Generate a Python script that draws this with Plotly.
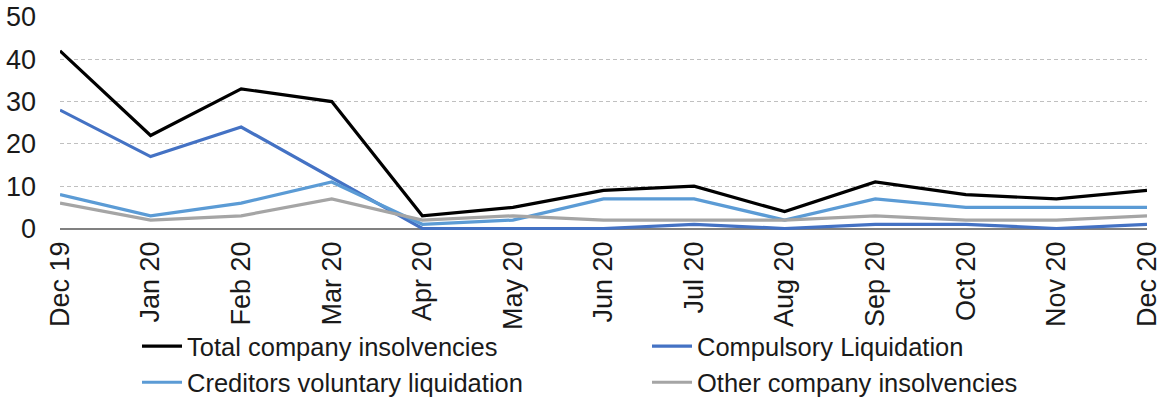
import plotly.graph_objects as go

months = ["Dec 19", "Jan 20", "Feb 20", "Mar 20", "Apr 20", "May 20", "Jun 20",
          "Jul 20", "Aug 20", "Sep 20", "Oct 20", "Nov 20", "Dec 20"]
total = [42, 22, 33, 30, 3, 5, 9, 10, 4, 11, 8, 7, 9]
compulsory = [28, 17, 24, 12, 0, 0, 0, 1, 0, 1, 1, 0, 1]
cvl = [8, 3, 6, 11, 1, 2, 7, 7, 2, 7, 5, 5, 5]
other = [6, 2, 3, 7, 2, 3, 2, 2, 2, 3, 2, 2, 3]

series = [
    ("Total company insolvencies", total, "#000000"),
    ("Compulsory Liquidation", compulsory, "#4472C4"),
    ("Creditors voluntary liquidation", cvl, "#5B9BD5"),
    ("Other company insolvencies", other, "#A5A5A5"),
]

idx = list(range(len(months)))
fig = go.Figure()
for name, vals, col in series:
    fig.add_trace(go.Scatter(x=idx, y=vals, name=name, mode="lines",
                             line=dict(color=col, width=3.2)))

font = "Liberation Sans, Arial, sans-serif"
fig.update_layout(
    width=1163, height=401,
    margin=dict(l=60, r=16, t=17, b=171),
    plot_bgcolor="white", paper_bgcolor="white",
    font=dict(family=font, color="#1a1a1a"),
    showlegend=True,
    legend=dict(orientation="h", xref="container", yref="container",
                x=137 / 1163, y=1 - 323 / 401, xanchor="left", yanchor="top",
                entrywidth=455, entrywidthmode="pixels", bgcolor="rgba(0,0,0,0)",
                font=dict(size=25.5, family=font, color="#1a1a1a"),
                tracegroupgap=0, itemwidth=40),
    xaxis=dict(range=[0, 12], tickmode="array", tickvals=idx, ticktext=months,
               tickangle=-90, tickfont=dict(size=27), ticks="", showgrid=False,
               showline=False, zeroline=False, automargin=False,
               ticklabelstandoff=5),
    xaxis2=dict(range=[0, 12], overlaying="x", side="bottom", anchor="y",
                tickmode="array", tickvals=[0, 4, 8, 12], ticktext=["", "", "", ""],
                ticks="outside", ticklen=7, tickcolor="#808080", tickwidth=1,
                showticklabels=False, showgrid=False, zeroline=False, showline=False,
                automargin=False),
    yaxis=dict(range=[-0.35, 50], tickvals=[0, 10, 20, 30, 40, 50],
               tickfont=dict(size=27), showgrid=True, gridcolor="#C0C0C0",
               griddash="4px,3px", gridwidth=1, zeroline=True, zerolinecolor="#808080",
               zerolinewidth=1.5, showline=False, ticklabelstandoff=23,
               automargin=False),
)
fig.write_html("out.html", config={"displayModeBar": False},
               post_script="document.body.style.margin='0';")
